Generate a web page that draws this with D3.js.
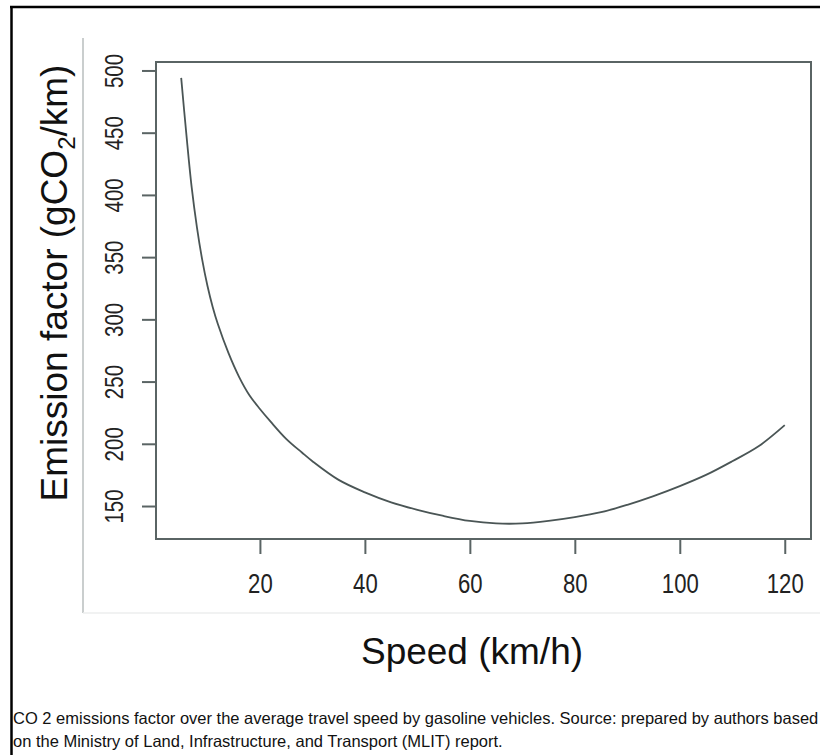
<!DOCTYPE html>
<html>
<head>
<meta charset="utf-8">
<script src="https://cdn.jsdelivr.net/npm/d3@7"></script>
<style>
  html, body { margin: 0; padding: 0; background: #fff; }
  svg { display: block; }
  text { font-family: "Liberation Sans", Arial, Helvetica, sans-serif; }
</style>
</head>
<body>
<svg id="chart" width="820" height="755"></svg>
<script>
// ---- data ----
const speeds = [5, 6, 7, 8, 9, 10, 11, 12, 14, 16, 18, 20, 22, 25, 28, 30, 35, 40, 45, 50, 55, 60, 65, 70, 75, 80, 85, 90, 95, 100, 105, 110, 115, 120];
const emissions = [494, 448, 406, 374, 348, 327, 310, 296, 273, 254, 239, 228, 218, 204, 193, 186, 171, 161, 153, 147, 142, 138, 136, 136, 138, 141, 145, 151, 158, 166, 175, 186, 198, 215];
const xTicks = [20, 40, 60, 80, 100, 120];
const yTicks = [150, 200, 250, 300, 350, 400, 450, 500];
const xTitle = "Speed (km/h)";
const captionLines = [
  "CO 2 emissions factor over the average travel speed by gasoline vehicles. Source: prepared by authors based",
  "on the Ministry of Land, Infrastructure, and Transport (MLIT) report."
];

const data = speeds.map((s, i) => ({ s, e: emissions[i] }));

const svg = d3.select("#chart");

// outer frame (figure border)
svg.append("line").attr("x1", 11.5).attr("x2", 11.5).attr("y1", 6).attr("y2", 755)
  .attr("stroke", "#000").attr("stroke-width", 2.5);
svg.append("line").attr("x1", 10).attr("x2", 820).attr("y1", 7).attr("y2", 7)
  .attr("stroke", "#000").attr("stroke-width", 2.5);

// light image-edge lines
svg.append("line").attr("x1", 83).attr("x2", 83).attr("y1", 38).attr("y2", 613)
  .attr("stroke", "#b9bebe").attr("stroke-width", 1.5);
svg.append("line").attr("x1", 83).attr("x2", 820).attr("y1", 613).attr("y2", 613)
  .attr("stroke", "#eceeee").attr("stroke-width", 1.5);

const L = 156, R = 811, T = 62, B = 539;
const x = d3.scaleLinear().domain([0.2, 125]).range([L, R]);
const y = d3.scaleLinear().domain([123.5, 506.8]).range([B, T]);

const axisColor = "#5a6464";

// x axis
const gx = svg.append("g").attr("transform", `translate(0,${B})`)
  .call(d3.axisBottom(x).tickValues(xTicks).tickSize(15).tickPadding(20).tickFormat(d3.format("d")));
gx.select(".domain").remove();
gx.selectAll(".tick line").attr("stroke", axisColor).attr("stroke-width", 2);
gx.selectAll(".tick text").attr("fill", "#222").attr("font-size", 27)
  .attr("transform", "scale(0.82,1)").attr("dy", "0.71em");

// y axis
const gy = svg.append("g").attr("transform", `translate(${L},0)`)
  .call(d3.axisLeft(y).tickValues(yTicks).tickSize(14).tickPadding(0).tickFormat(d3.format("d")));
gy.select(".domain").remove();
gy.selectAll(".tick line").attr("stroke", axisColor).attr("stroke-width", 2);
gy.selectAll(".tick text").attr("fill", "#222").attr("font-size", 25)
  .attr("x", null).attr("dy", null)
  .attr("text-anchor", "middle")
  .attr("transform", "translate(-33,0) rotate(-90) scale(0.82,1)");

// plot box
svg.append("rect").attr("x", L).attr("y", T).attr("width", R - L).attr("height", B - T)
  .attr("fill", "none").attr("stroke", axisColor).attr("stroke-width", 2);

// curve
svg.append("path").datum(data)
  .attr("fill", "none").attr("stroke", "#4a5555").attr("stroke-width", 1.8)
  .attr("d", d3.line().x(d => x(d.s)).y(d => y(d.e)).curve(d3.curveCatmullRom.alpha(0.5)));

// axis titles
svg.append("text").attr("x", 472).attr("y", 664).attr("text-anchor", "middle")
  .attr("font-size", 37).attr("fill", "#111").text(xTitle);

const yt = svg.append("text").attr("text-anchor", "middle")
  .attr("transform", "translate(67,283) rotate(-90)")
  .attr("font-size", 37).attr("fill", "#111");
yt.append("tspan").text("Emission factor (gCO");
yt.append("tspan").attr("font-size", 24).attr("dy", 8).text("2");
yt.append("tspan").attr("dy", -8).text("/km)");

// caption
svg.selectAll("text.caption").data(captionLines).join("text")
  .attr("class", "caption")
  .attr("x", 13).attr("y", (d, i) => 724 + i * 23)
  .attr("font-size", 16.5).attr("fill", "#111")
  .text(d => d);
</script>
</body>
</html>
